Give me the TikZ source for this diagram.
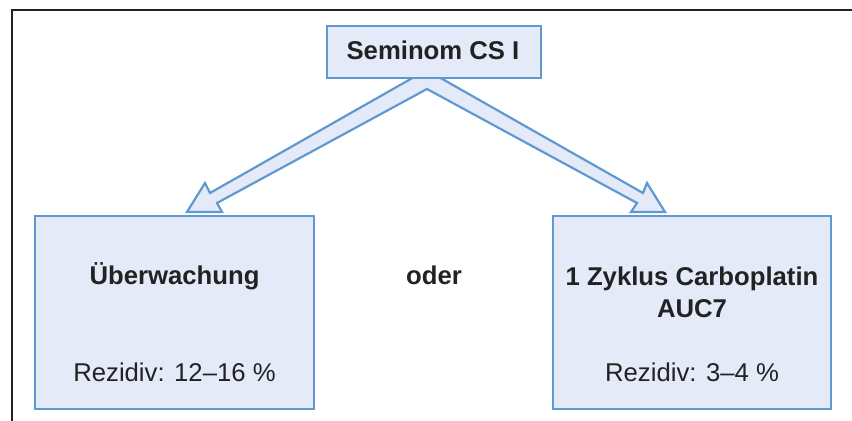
\documentclass[tikz,border=0pt]{standalone}
\usepackage{fontspec}
\setmainfont{Liberation Sans}
\usetikzlibrary{positioning}

\definecolor{boxfill}{RGB}{228,234,248}
\definecolor{boxline}{RGB}{95,153,210}
\definecolor{textgray}{RGB}{34,34,34}

\tikzstyle{block} = [draw=boxline, fill=boxfill, rectangle, line width=1.3pt,
    inner sep=0pt]
\tikzstyle{label} = [text=textgray, anchor=base, inner sep=0pt,
    font=\fontsize{12.85}{16}\selectfont]
\tikzstyle{fatarrow} = [draw=boxline, fill=boxfill, line width=1.1pt,
    line join=miter]

\begin{document}
\begin{tikzpicture}[x=0.5pt, y=-0.5pt]
      \useasboundingbox (0,0) rectangle (852,421);
      % frame
      \draw [textgray, line width=0.8pt] (12,421) -- (12,10) -- (852,10);

      % double arrow, drawn first so the top box covers its apex
      \draw [fatarrow] (427,89) -- (217,203) -- (222,212) -- (187,212)
        -- (205,183) -- (210,193) -- (426.5,70) -- (643,193) -- (647,183)
        -- (665,212) -- (631,212) -- (637,203) -- cycle;

      \node [block, minimum width=107pt, minimum height=26pt] at (434,52) (seminom) {};
      \node [block, minimum width=139.5pt, minimum height=96.5pt] at (174.5,312.5) (watch) {};
      \node [block, minimum width=139pt, minimum height=96.5pt] at (692,312.5) (carbo) {};

      \node [label, font=\fontsize{12.85}{16}\selectfont\bfseries] at (433,60) (seminomtxt) {Seminom CS I};
      \node [label, font=\fontsize{12.85}{16}\selectfont\bfseries] at (174.5,285) (watchtxt) {Überwachung};
      \node [label] at (174.5,382) (watchrez) {Rezidiv: 12–16 \%};
      \node [label, font=\fontsize{12.85}{16}\selectfont\bfseries] at (434,285) (oder) {oder};
      \node [label, font=\fontsize{12.85}{16}\selectfont\bfseries] at (692,286) (carbotxt) {1 Zyklus Carboplatin};
      \node [label, font=\fontsize{12.85}{16}\selectfont\bfseries, below=16pt of carbotxt.base, anchor=base] (auc) {AUC7};
      \node [label] at (692,382) (carborez) {Rezidiv: 3–4 \%};
    \end{tikzpicture}
\end{document}
